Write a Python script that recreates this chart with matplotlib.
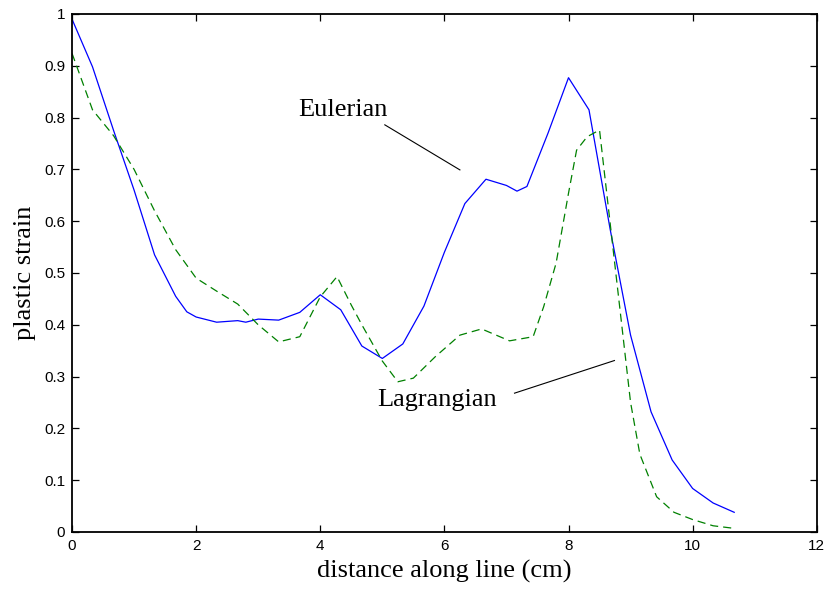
import matplotlib
matplotlib.use("Agg")
import matplotlib.pyplot as plt

# Eulerian (solid blue)
x_eul = [0, 0.33, 0.67, 1.0, 1.33, 1.67, 1.85, 2.0, 2.33, 2.67, 2.8, 3.0, 3.33, 3.67, 4.0, 4.33, 4.67,
         5.0, 5.33, 5.67, 6.0, 6.33, 6.67, 7.0, 7.17, 7.33, 7.67, 8.0, 8.33, 8.67, 9.0, 9.33,
         9.67, 10.0, 10.33, 10.67]
y_eul = [0.99, 0.898, 0.775, 0.66, 0.535, 0.455, 0.425, 0.415, 0.405, 0.408, 0.405, 0.411, 0.409, 0.424, 0.458, 0.429, 0.359,
         0.335, 0.363, 0.436, 0.54, 0.634, 0.681, 0.669, 0.658, 0.667, 0.77, 0.877, 0.815, 0.585, 0.38, 0.232,
         0.139, 0.084, 0.056, 0.038]

# Lagrangian (dashed green)
x_lag = [0, 0.33, 0.67, 1.0, 1.33, 1.67, 2.0, 2.33, 2.67, 3.0, 3.33, 3.67, 4.0, 4.27, 4.5, 4.67,
         5.0, 5.25, 5.5, 5.85, 6.25, 6.6, 7.05, 7.43, 7.6, 7.8, 8.0, 8.13, 8.3, 8.5, 9.0, 9.15,
         9.42, 9.7, 10.0, 10.33, 10.67]
y_lag = [0.924, 0.815, 0.765, 0.70, 0.62, 0.545, 0.49, 0.465, 0.44, 0.40, 0.367, 0.377, 0.454, 0.493, 0.438, 0.40,
         0.33, 0.29, 0.297, 0.338, 0.38, 0.392, 0.369, 0.377, 0.435, 0.519, 0.654, 0.737, 0.763, 0.776, 0.25, 0.15,
         0.068, 0.038, 0.024, 0.012, 0.007]

x_ticks = [0, 2, 4, 6, 8, 10, 12]
y_ticks = [0, 0.1, 0.2, 0.3, 0.4, 0.5, 0.6, 0.7, 0.8, 0.9, 1]
y_tick_labels = ["0", "0.1", "0.2", "0.3", "0.4", "0.5", "0.6", "0.7", "0.8", "0.9", "1"]

fig = plt.figure(figsize=(8.25, 5.95), dpi=100)
ax = fig.add_axes([0.0873, 0.1059, 0.9027, 0.8706])

ax.plot(x_eul, y_eul, color="#0000ff", lw=0.9)
ax.plot(x_lag, y_lag, color="#008000", lw=0.9, linestyle=(0, (6.5, 4)))

ax.set_xlim(0, 12)
ax.set_ylim(0, 1)
ax.set_xticks(x_ticks)
ax.set_xticklabels([str(t) for t in x_ticks])
ax.set_yticks(y_ticks)
ax.set_yticklabels(y_tick_labels)
ax.tick_params(direction="in", length=5, width=0.9, top=True, right=True,
               labelsize=11, pad=5)
for lab in ax.get_xticklabels() + ax.get_yticklabels():
    lab.set_family("Liberation Sans")
for s in ax.spines.values():
    s.set_linewidth(1.3)

serif = "Liberation Serif"
ax.set_xlabel("distance along line (cm)", family=serif, fontsize=19, labelpad=5)
ax.set_ylabel("plastic strain", family=serif, fontsize=19, labelpad=6)

ax.text(4.37, 0.803, "Eulerian", family=serif, fontsize=19, ha="center", va="baseline")
ax.plot([5.04, 6.25], [0.786, 0.699], color="black", lw=0.8)
ax.text(5.88, 0.243, "Lagrangian", family=serif, fontsize=19, ha="center", va="baseline")
ax.plot([7.13, 8.74], [0.268, 0.331], color="black", lw=0.8)

fig.savefig("out.png", dpi=100)
